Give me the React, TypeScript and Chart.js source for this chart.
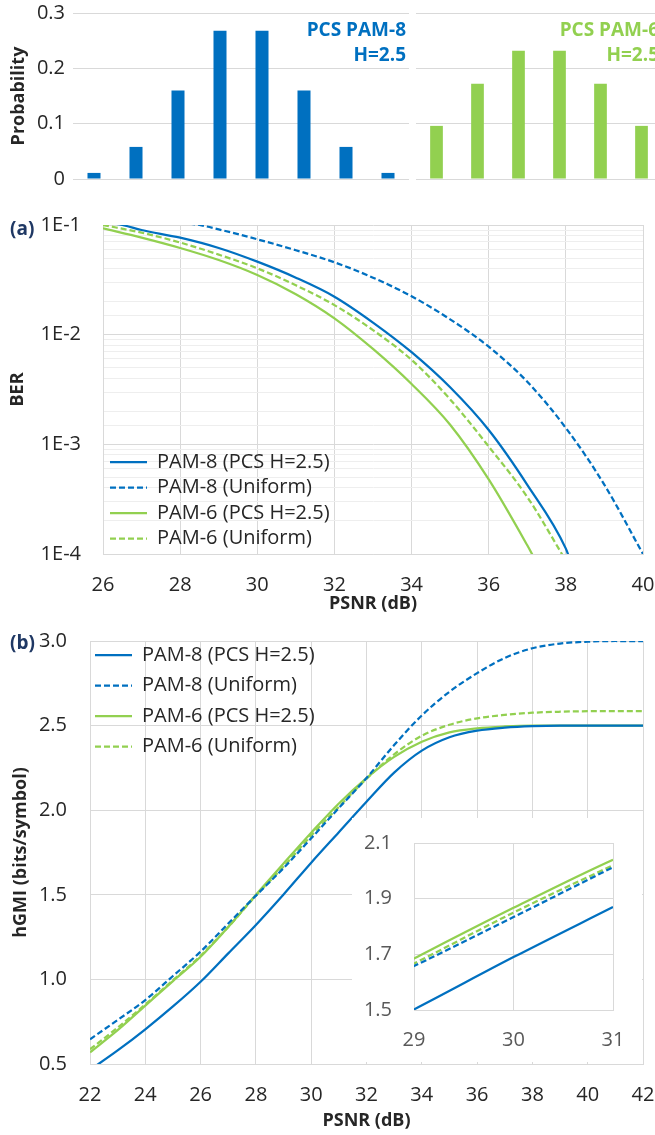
import React, { useEffect, useRef } from 'react';
import { Chart, registerables } from 'chart.js';

Chart.register(...registerables);
Chart.defaults.font.family = '"Open Sans", "Noto Sans", sans-serif';
Chart.defaults.color = '#262626';

const BLUE = '#0070C0';
const GREEN = '#92D050';
const NAVY = '#1F3864';
const GRID = '#D9D9D9';
const MINOR_GRID = '#EEEEEE';
const TEXT = '#262626';
const INSET_TEXT = '#595959';
const DASH = [6, 3];

// ---- Top: symbol probabilities ----
const pam8Symbols = ['-7', '-5', '-3', '-1', '1', '3', '5', '7'];
const pam8Probability = [0.011, 0.058, 0.16, 0.268, 0.268, 0.16, 0.058, 0.011];
const pam6Symbols = ['-5', '-3', '-1', '1', '3', '5'];
const pam6Probability = [0.096, 0.172, 0.232, 0.232, 0.172, 0.096];

// ---- (a) BER vs PSNR ----
const berPam8PcsPsnr = [26, 26.5, 27, 28, 29, 30, 31, 32, 33, 34, 35, 36, 37, 38, 38.1];
const berPam8PcsValue = [0.107, 0.1, 0.09, 0.0766, 0.0617, 0.0463, 0.0331, 0.0222, 0.0129, 0.00692, 0.00331, 0.00135, 4.27e-4, 1.12e-4, 9.0e-5];
const berPam8UniPsnr = [28, 28.5, 29, 30, 31, 32, 33, 34, 35, 36, 37, 38, 39, 40];
const berPam8UniValue = [0.105, 0.1, 0.0912, 0.0741, 0.0589, 0.0457, 0.0331, 0.0224, 0.0138, 0.00776, 0.00372, 0.00141, 4.27e-4, 1.0e-4];
const berPam6PcsPsnr = [26, 27, 28, 29, 30, 31, 32, 33, 34, 35, 36, 37, 37.2];
const berPam6PcsValue = [0.0933, 0.0767, 0.0617, 0.0479, 0.035, 0.0234, 0.0141, 0.00741, 0.00355, 0.00151, 4.79e-4, 1.2e-4, 8.9e-5];
const berPam6UniPsnr = [26, 27, 28, 29, 30, 31, 32, 33, 34, 35, 36, 37, 38];
const berPam6UniValue = [0.1, 0.0851, 0.0692, 0.0537, 0.0403, 0.0282, 0.0186, 0.011, 0.00589, 0.00257, 9.55e-4, 3.31e-4, 8.7e-5];

// ---- (b) hGMI vs PSNR ----
const gmiPsnr = [22, 23, 24, 25, 26, 27, 28, 29, 30, 31, 32, 33, 34, 35, 36, 37, 38, 39, 40, 41, 42];
const gmiPam8Pcs = [0.465, 0.58, 0.705, 0.84, 0.986, 1.154, 1.322, 1.502, 1.69, 1.87, 2.05, 2.222, 2.352, 2.431, 2.47, 2.488, 2.497, 2.5, 2.5, 2.5, 2.5];
const gmiPam8Uni = [0.646, 0.76, 0.878, 1.02, 1.164, 1.33, 1.495, 1.658, 1.834, 2.013, 2.19, 2.385, 2.56, 2.7, 2.81, 2.9, 2.957, 2.985, 2.996, 3.0, 3.0];
const gmiPam6Pcs = [0.569, 0.7, 0.845, 0.99, 1.134, 1.31, 1.5, 1.685, 1.867, 2.04, 2.19, 2.315, 2.405, 2.46, 2.484, 2.495, 2.5, 2.5, 2.5, 2.5, 2.5];
const gmiPam6Uni = [0.587, 0.715, 0.852, 0.995, 1.14, 1.31, 1.495, 1.667, 1.85, 2.02, 2.185, 2.33, 2.44, 2.505, 2.543, 2.563, 2.576, 2.582, 2.585, 2.586, 2.586];

const seriesNames = ['PAM-8 (PCS H=2.5)', 'PAM-8 (Uniform)', 'PAM-6 (PCS H=2.5)', 'PAM-6 (Uniform)'];

const pts = (xs: number[], ys: number[]) => xs.map((x, i) => ({ x, y: ys[i] }));

// Places the legend relative to the plot area (position: 'chartArea').
const legendPlace = {
  id: 'legendPlace',
  afterLayout(chart: any, _args: any, opts: any) {
    const lg = chart.legend;
    const ca = chart.chartArea;
    if (!lg || !ca || !opts) return;
    const dx = opts.dx || 0;
    const dy = opts.dy || 0;
    lg.left = ca.left + dx;
    lg.right = ca.right + dx;
    lg.top = ca.top + dy;
    lg.bottom = ca.bottom + dy;
  },
};

const lineLegendLabels = (chart: any) => {
  const base = (Chart as any).defaults.plugins.legend.labels.generateLabels(chart);
  return base.map((it: any) => {
    const ds = chart.data.datasets[it.datasetIndex];
    return { ...it, lineDash: ds.borderDash, lineWidth: ds.borderWidth, strokeStyle: ds.borderColor, fillStyle: ds.borderColor };
  });
};

// Fix a scale's size and drop Chart.js's automatic label padding so the plot area is exact.
const fixSize = (w: number | null, h: number | null) => (s: any) => {
  if (w !== null) s.width = w;
  if (h !== null) s.height = h;
  s.paddingLeft = 0;
  s.paddingRight = 0;
  s.paddingTop = 0;
  s.paddingBottom = 0;
};

const lineDs = (label: string, data: any[], color: string, dashed: boolean) => ({
  label,
  data,
  borderColor: color,
  backgroundColor: color,
  borderWidth: 2.25,
  borderDash: dashed ? DASH : [],
  pointRadius: 0,
  fill: false,
  cubicInterpolationMode: 'monotone',
});

const isDecade = (v: number) => {
  const e = Math.log10(v);
  return Math.abs(e - Math.round(e)) < 1e-6;
};

function barConfig(labels: string[], values: number[], color: string, withAxis: boolean): any {
  return {
    type: 'bar',
    data: { labels, datasets: [{ data: values, backgroundColor: color, barPercentage: 0.31, categoryPercentage: 1 }] },
    options: {
      responsive: false,
      animation: false,
      layout: { padding: withAxis ? { top: 13, bottom: 16, left: 0, right: 1 } : { top: 13, bottom: 16, left: 6, right: 8 } },
      plugins: { legend: { display: false }, tooltip: { enabled: false } },
      scales: {
        x: { display: false },
        y: {
          min: 0,
          max: 0.3,
          ticks: {
            display: withAxis,
            stepSize: 0.1,
            padding: 8,
            color: TEXT,
            font: { size: 20 },
            callback: (v: any) => (Number(v) === 0 ? '0' : Number(v).toFixed(1)),
          },
          grid: { color: GRID, drawTicks: false },
          border: { display: false },
          title: {
            display: withAxis,
            text: 'Probability',
            color: TEXT,
            font: { size: 18, weight: 'bold' },
            padding: { top: 8, bottom: 0 },
          },
          afterFit: fixSize(withAxis ? 73 : 0, null),
        },
      },
    },
  };
}

function legendOptions(align: string, padding: number) {
  return {
    position: 'chartArea',
    align,
    labels: {
      usePointStyle: true,
      pointStyle: 'line',
      pointStyleWidth: 37,
      padding,
      color: TEXT,
      font: { size: 20 },
      generateLabels: lineLegendLabels,
    },
  };
}

function berConfig(): any {
  return {
    type: 'line',
    data: {
      datasets: [
        lineDs(seriesNames[0], pts(berPam8PcsPsnr, berPam8PcsValue), BLUE, false),
        lineDs(seriesNames[1], pts(berPam8UniPsnr, berPam8UniValue), BLUE, true),
        lineDs(seriesNames[2], pts(berPam6PcsPsnr, berPam6PcsValue), GREEN, false),
        lineDs(seriesNames[3], pts(berPam6UniPsnr, berPam6UniValue), GREEN, true),
      ],
    },
    plugins: [legendPlace],
    options: {
      responsive: false,
      animation: false,
      layout: { padding: { top: 30, right: 12, left: 0, bottom: 0 } },
      plugins: {
        tooltip: { enabled: false },
        legendPlace: { dx: 1.5, dy: 0 },
        legend: legendOptions('end', 5.5),
      },
      scales: {
        x: {
          type: 'linear',
          min: 26,
          max: 40,
          ticks: { stepSize: 2, padding: 19, color: TEXT, font: { size: 20 } },
          grid: { color: GRID, drawTicks: false },
          border: { color: GRID },
          title: { display: true, text: 'PSNR (dB)', color: TEXT, font: { size: 18, weight: 'bold' }, padding: { top: 0, bottom: 0 } },
          afterFit: fixSize(null, 61),
        },
        y: {
          type: 'logarithmic',
          min: 1e-4,
          max: 1e-1,
          ticks: {
            autoSkip: false,
            padding: 22,
            color: TEXT,
            font: { size: 20 },
            callback: (v: any) => (isDecade(Number(v)) ? '1E' + Math.round(Math.log10(Number(v))) : ''),
          },
          grid: {
            drawTicks: false,
            color: (ctx: any) => (ctx.tick && !isDecade(ctx.tick.value) ? MINOR_GRID : GRID),
          },
          border: { color: GRID },
          title: { display: true, text: 'BER', color: TEXT, font: { size: 18, weight: 'bold' }, padding: { top: 7, bottom: 0 } },
          afterFit: fixSize(103, null),
        },
      },
    },
  };
}

function gmiDatasets() {
  return [
    lineDs(seriesNames[0], pts(gmiPsnr, gmiPam8Pcs), BLUE, false),
    lineDs(seriesNames[1], pts(gmiPsnr, gmiPam8Uni), BLUE, true),
    lineDs(seriesNames[2], pts(gmiPsnr, gmiPam6Pcs), GREEN, false),
    lineDs(seriesNames[3], pts(gmiPsnr, gmiPam6Uni), GREEN, true),
  ];
}

function gmiConfig(): any {
  return {
    type: 'line',
    data: { datasets: gmiDatasets() },
    plugins: [legendPlace],
    options: {
      responsive: false,
      animation: false,
      layout: { padding: { top: 26, right: 12, left: 0, bottom: 0 } },
      plugins: {
        tooltip: { enabled: false },
        legendPlace: { dx: -5.5, dy: -6.5 },
        legend: legendOptions('start', 10.5),
      },
      scales: {
        x: {
          type: 'linear',
          min: 22,
          max: 42,
          ticks: { stepSize: 2, padding: 19, color: TEXT, font: { size: 20 } },
          grid: { color: GRID, drawTicks: false },
          border: { color: GRID },
          title: { display: true, text: 'PSNR (dB)', color: TEXT, font: { size: 18, weight: 'bold' }, padding: { top: 0, bottom: 3 } },
          afterFit: fixSize(null, 71),
        },
        y: {
          min: 0.5,
          max: 3.0,
          ticks: { stepSize: 0.5, padding: 23, color: TEXT, font: { size: 20 }, callback: (v: any) => Number(v).toFixed(1) },
          grid: { color: GRID, drawTicks: false },
          border: { color: GRID },
          title: { display: true, text: 'hGMI (bits/symbol)', color: TEXT, font: { size: 18, weight: 'bold' }, padding: { top: 10, bottom: 0 } },
          afterFit: fixSize(90, null),
        },
      },
    },
  };
}

function insetConfig(): any {
  return {
    type: 'line',
    data: { datasets: gmiDatasets() },
    options: {
      responsive: false,
      animation: false,
      layout: { padding: { top: 25, right: 29, left: 0, bottom: 0 } },
      plugins: { tooltip: { enabled: false }, legend: { display: false } },
      scales: {
        x: {
          type: 'linear',
          min: 29,
          max: 31,
          ticks: { stepSize: 1, padding: 18, color: INSET_TEXT, font: { size: 20 } },
          grid: { color: GRID, drawTicks: false },
          border: { color: GRID },
          afterFit: fixSize(null, 52),
        },
        y: {
          min: 1.5,
          max: 2.1,
          ticks: { stepSize: 0.2, padding: 22, color: INSET_TEXT, font: { size: 20 }, callback: (v: any) => Number(v).toFixed(1) },
          grid: { color: GRID, drawTicks: false },
          border: { color: GRID },
          afterFit: fixSize(62, null),
        },
      },
    },
  };
}

function ChartCanvas(props: { left: number; top: number; width: number; height: number; make: () => any; bg?: string }) {
  const ref = useRef<HTMLCanvasElement>(null);
  useEffect(() => {
    const chart = new Chart(ref.current as HTMLCanvasElement, props.make());
    return () => chart.destroy();
  }, []);
  return (
    <canvas
      ref={ref}
      width={props.width}
      height={props.height}
      style={{ position: 'absolute', left: props.left, top: props.top, width: props.width, height: props.height, background: props.bg || 'transparent' }}
    />
  );
}

const labelStyle: React.CSSProperties = {
  position: 'absolute',
  fontFamily: '"Open Sans", "Noto Sans", sans-serif',
  fontWeight: 700,
  whiteSpace: 'nowrap',
};

export default function App() {
  return (
    <div style={{ position: 'absolute', left: 0, top: 0, width: 655, height: 1135, overflow: 'hidden', background: '#fff' }}>
      <ChartCanvas left={0} top={0} width={410} height={195} make={() => barConfig(pam8Symbols, pam8Probability, BLUE, true)} />
      <ChartCanvas left={410} top={0} width={260} height={195} make={() => barConfig(pam6Symbols, pam6Probability, GREEN, false)} />
      <div style={{ ...labelStyle, right: 249, top: 17, textAlign: 'right', color: BLUE, fontSize: 19, lineHeight: '25px' }}>
        PCS PAM-8<br />H=2.5
      </div>
      <div style={{ ...labelStyle, right: -4, top: 17, textAlign: 'right', color: GREEN, fontSize: 19, lineHeight: '25px' }}>
        PCS PAM-6<br />H=2.5
      </div>
      <ChartCanvas left={0} top={195} width={655} height={420} make={berConfig} />
      <div style={{ ...labelStyle, left: 10, top: 216, color: NAVY, fontSize: 19, lineHeight: '24px' }}>(a)</div>
      <ChartCanvas left={0} top={615} width={655} height={520} make={gmiConfig} />
      <div style={{ ...labelStyle, left: 10, top: 630, color: NAVY, fontSize: 19, lineHeight: '24px' }}>(b)</div>
      <ChartCanvas left={352} top={818} width={290} height={244} make={insetConfig} bg="#ffffff" />
    </div>
  );
}
